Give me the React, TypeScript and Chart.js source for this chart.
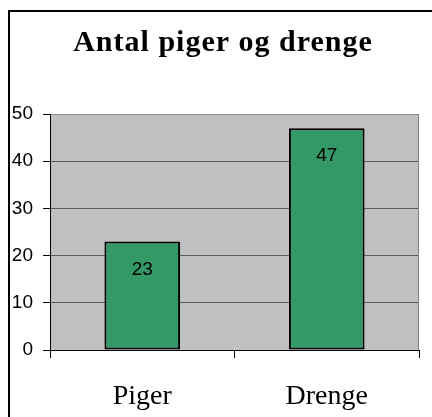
import React, { useEffect, useRef } from "react";
import { Chart, registerables } from "chart.js";

Chart.register(...registerables);

const TITLE = "Antal piger og drenge";
const categories = ["Piger", "Drenge"];
const values = [23, 47];
const yTicks = [0, 10, 20, 30, 40, 50];

const SANS = '"Liberation Sans", Arial, sans-serif';
const SERIF = '"Liberation Serif", "Times New Roman", serif';

const decor = {
  id: "decor",
  beforeDraw(chart: any) {
    const { ctx, chartArea } = chart;
    ctx.save();
    ctx.fillStyle = "#ffffff";
    ctx.fillRect(0, 0, chart.width, chart.height);
    // plot background
    ctx.fillStyle = "#C0C0C0";
    ctx.fillRect(chartArea.left, chartArea.top, chartArea.right - chartArea.left, chartArea.bottom - chartArea.top);
    // outer frame (top and left visible)
    ctx.strokeStyle = "#000000";
    ctx.lineWidth = 2;
    ctx.beginPath();
    ctx.moveTo(9, chart.height);
    ctx.lineTo(9, 11);
    ctx.lineTo(chart.width, 11);
    ctx.stroke();
    // title
    ctx.fillStyle = "#000";
    ctx.font = `bold 30px ${SERIF}`;
    try { (ctx as any).letterSpacing = "1px"; } catch (e) {}
    ctx.textAlign = "center";
    ctx.textBaseline = "alphabetic";
    ctx.fillText(TITLE, 223, 51);
    try { (ctx as any).letterSpacing = "0px"; } catch (e) {}
    ctx.restore();
  },
  afterDatasetsDraw(chart: any) {
    const { ctx, chartArea } = chart;
    ctx.save();
    // right border of plot
    ctx.strokeStyle = "#808080";
    ctx.lineWidth = 1;
    ctx.beginPath();
    ctx.moveTo(chartArea.right - 0.5, chartArea.top);
    ctx.lineTo(chartArea.right - 0.5, chartArea.bottom);
    ctx.stroke();
    // value labels
    const meta = chart.getDatasetMeta(0);
    ctx.fillStyle = "#000";
    ctx.font = `19px ${SANS}`;
    ctx.textAlign = "center";
    ctx.textBaseline = "middle";
    meta.data.forEach((bar: any, i: number) => {
      ctx.fillText(String(values[i]), bar.x, bar.y + 28);
    });
    ctx.restore();
  },
};

export default function App() {
  const ref = useRef<HTMLCanvasElement>(null);
  useEffect(() => {
    if (!ref.current) return;
    const chart = new Chart(ref.current, {
      type: "bar",
      data: {
        labels: categories,
        datasets: [
          {
            data: values,
            backgroundColor: "#339966",
            borderColor: "#000000",
            borderWidth: 2,
            borderSkipped: false,
            categoryPercentage: 1,
            barPercentage: 0.41,
          },
        ],
      },
      options: {
        responsive: false,
        animation: false,
        devicePixelRatio: 1,
        layout: { padding: { top: 114, left: 0, right: 13, bottom: 0 } },
        plugins: {
          legend: { display: false },
          title: { display: false },
          tooltip: { enabled: false },
        },
        scales: {
          x: {
            offset: true,
            grid: {
              offset: true,
              drawOnChartArea: false,
              drawTicks: true,
              tickLength: 8,
              tickColor: "#000",
            },
            border: { color: "#000", width: 1 },
            ticks: {
              color: "#000",
              font: { family: SERIF, size: 28 },
              padding: 22,
            },
            afterFit(scale: any) {
              scale.height = 67;
            },
          },
          y: {
            min: 0,
            max: 50,
            afterBuildTicks(scale: any) {
              scale.ticks = yTicks.map((v) => ({ value: v }));
            },
            grid: {
              color: (c: any) => (c.tick && c.tick.value === 50 ? "#8a8a8a" : "#5a5a5a"),
              tickColor: "#000",
              tickLength: 7,
              drawTicks: true,
            },
            border: { color: "#000", width: 1 },
            ticks: {
              color: "#000",
              font: { family: SANS, size: 19 },
              padding: 10,
            },
            afterFit(scale: any) {
              scale.width = 50;
            },
          },
        },
      },
      plugins: [decor],
    });
    return () => chart.destroy();
  }, []);
  return (
    <div style={{ position: "fixed", left: 0, top: 0 }}>
      <canvas ref={ref} width={432} height={417} style={{ display: "block" }} />
    </div>
  );
}
